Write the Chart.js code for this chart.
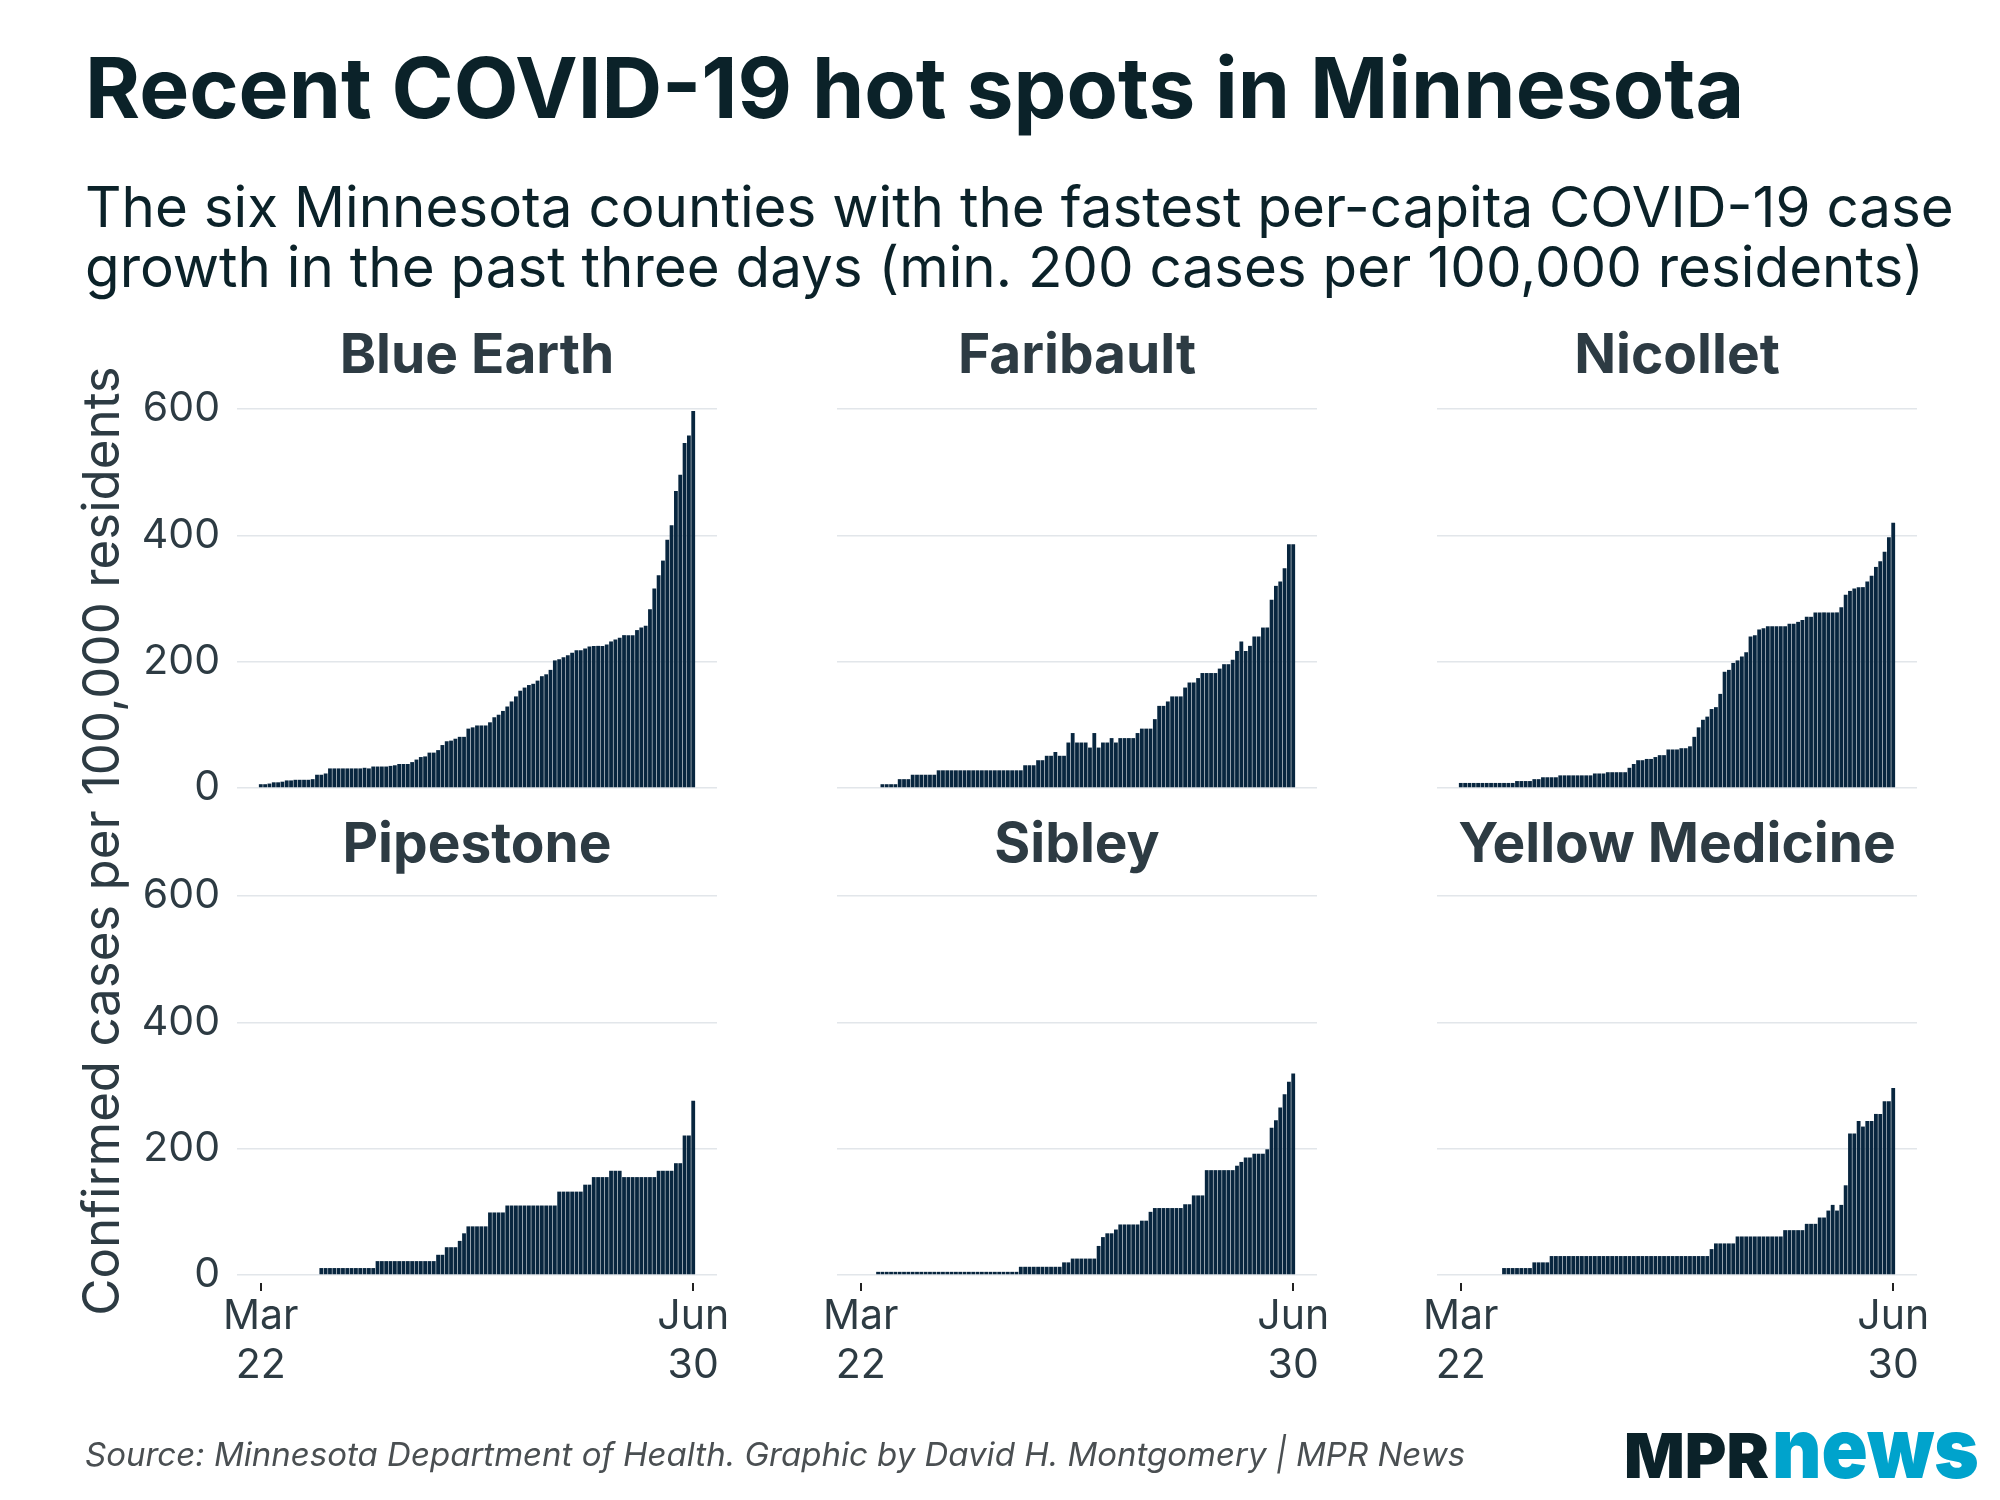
<!DOCTYPE html>
<html><head><meta charset="utf-8">
<script src="https://cdn.jsdelivr.net/npm/chart.js@4.4.1/dist/chart.umd.min.js"></script>
<style>
html,body{margin:0;padding:0;background:#fff;}
#stage{position:relative;width:2000px;height:1500px;overflow:hidden;background:#fff;}
#stage canvas{position:absolute;}
#txt{position:absolute;left:0;top:0;pointer-events:none;}
</style></head><body>
<div id="stage">
<svg id="txt" width="2000" height="1500" xmlns="http://www.w3.org/2000/svg">
  <text x="85" y="118" font-family="Inter" font-weight="700" font-size="84" fill="#0b2229">Recent COVID-19 hot spots in Minnesota</text>
  <text x="85" y="227" font-family="Inter" font-weight="400" font-size="56.5" fill="#0b2229">The six Minnesota counties with the fastest per-capita COVID-19 case</text>
  <text x="85" y="287" font-family="Inter" font-weight="400" font-size="56.5" fill="#0b2229">growth in the past three days (min. 200 cases per 100,000 residents)</text>
  <text transform="translate(119,841) rotate(-90)" text-anchor="middle" font-family="Inter" font-weight="400" font-size="51" fill="#2d3b43">Confirmed cases per 100,000 residents</text>
  <text x="85" y="1466" font-family="Inter" font-style="italic" font-weight="400" font-size="33" fill="#4a4f52">Source: Minnesota Department of Health. Graphic by David H. Montgomery | MPR News</text>
  <text x="1624" y="1478" font-family="Inter" font-weight="900" font-size="62" fill="#0b2229" textLength="145" lengthAdjust="spacingAndGlyphs">MPR</text>
  <text x="1772" y="1478" font-family="Inter" font-weight="900" font-size="84" fill="#00a3cc" textLength="207" lengthAdjust="spacingAndGlyphs">news</text>
  <g id="panelTitles"></g>
</svg>
</div>
<script>
// ---- data (cases per 100,000 residents, daily, Mar 22 .. Jun 30) ----
const counties = ['Blue Earth', 'Faribault', 'Nicollet', 'Pipestone', 'Sibley', 'Yellow Medicine'];
const blueEarth = [6,6,7,9,9,10,12,12,13,13,
  13,13,14,21,21,23,31,31,31,31,
  31,31,31,31,32,31,34,34,34,34,
  35,36,38,38,38,41,45,49,50,56,
  56,60,68,74,75,78,81,81,94,96,
  99,99,99,104,112,116,122,129,137,145,
  154,159,163,165,170,177,180,187,202,204,
  207,210,214,218,218,221,224,225,225,225,
  227,232,235,238,242,242,242,250,254,257,
  283,316,337,360,393,416,470,496,546,558,
  597];
const faribault = [0,0,0,0,0,6,6,6,6,14,
  14,14,21,21,21,21,21,21,28,28,
  28,28,28,28,28,28,28,28,28,28,
  28,28,28,28,28,28,28,28,36,36,
  36,44,44,51,51,57,51,51,72,87,
  72,72,72,64,87,64,72,72,79,72,
  79,79,79,79,87,94,94,94,109,130,
  130,137,145,145,145,159,167,167,174,182,
  182,182,182,189,196,196,203,217,232,217,
  225,240,240,254,254,298,320,327,348,386,
  386];
const nicollet = [8,8,8,8,8,8,8,8,8,8,
  8,8,8,11,11,11,11,14,14,17,
  17,17,17,20,20,20,20,20,20,20,
  20,23,23,23,25,25,25,25,25,32,
  38,44,44,46,46,49,52,52,61,61,
  61,63,63,66,81,96,108,113,125,128,
  149,184,187,198,202,208,215,240,242,251,
  253,256,256,256,256,256,260,260,263,266,
  271,271,278,278,278,278,278,278,286,306,
  312,316,318,318,327,336,350,359,374,397,
  420];
const pipestone = [0,0,0,0,0,0,0,0,0,0,
  0,0,0,0,11,11,11,11,11,11,
  11,11,11,11,11,11,11,22,22,22,
  22,22,22,22,22,22,22,22,22,22,
  22,32,32,44,44,44,54,66,77,77,
  77,77,77,99,99,99,99,110,110,110,
  110,110,110,110,110,110,110,110,110,132,
  132,132,132,132,132,143,143,155,155,155,
  155,165,165,165,155,155,155,155,155,155,
  155,155,165,165,165,165,177,177,221,221,
  276];
const sibley = [0,0,0,0,5,5,5,5,5,5,
  5,5,5,5,5,5,5,5,5,5,
  5,5,5,5,5,5,5,5,5,5,
  5,5,5,5,5,5,5,13,13,13,
  13,13,13,13,13,13,13,20,20,26,
  26,26,26,26,26,46,60,66,66,72,
  80,80,80,80,80,86,86,100,106,106,
  106,106,106,106,106,112,112,126,126,126,
  166,166,166,166,166,166,166,173,179,186,
  186,192,192,192,199,233,245,265,286,306,
  319];
const yellowMedicine = [0,0,0,0,0,0,0,0,0,0,
  11,11,11,11,11,11,11,20,20,20,
  20,30,30,30,30,30,30,30,30,30,
  30,30,30,30,30,30,30,30,30,30,
  30,30,30,30,30,30,30,30,30,30,
  30,30,30,30,30,30,30,30,41,50,
  50,50,50,50,61,61,61,61,61,61,
  61,61,61,61,61,71,71,71,71,71,
  81,81,81,91,91,102,111,102,111,142,
  224,224,244,235,244,244,255,255,275,275,
  296];
const seriesList = [blueEarth, faribault, nicollet, pipestone, sibley, yellowMedicine];
const yTickValues = [0, 200, 400, 600];
const xTickDays = [0, 100];                 // day index: Mar 22 and Jun 30
const xTickLabels = [['Mar', '22'], ['Jun', '30']];

// ---- layout ----
const plotLefts = [237, 837, 1437];
const plotTops = [409, 896];
const plotW = 480;
const axisW = 100, padTop = 55, padRight = 40, xAxisH = 110, xAxisHTop = 55;
const barColor = '#08263f';
const gridColor = '#e2e6ea';
const textColor = '#2d3b43';

Chart.defaults.font.family = 'Inter';
Chart.defaults.animation = false;

const stage = document.getElementById('stage');
const ptG = document.getElementById('panelTitles');

seriesList.forEach((vals, k) => {
  const col = k % 3, row = Math.floor(k / 3);
  const bottomRow = row === 1, leftCol = col === 0;
  const cv = document.createElement('canvas');
  const w = axisW + plotW + padRight;
  const plotH = 387;
  const h = padTop + plotH + (bottomRow ? xAxisH : xAxisHTop);
  cv.width = w; cv.height = h;
  cv.style.left = (plotLefts[col] - axisW) + 'px';
  cv.style.top = (plotTops[row] - padTop) + 'px';
  cv.style.width = w + 'px'; cv.style.height = h + 'px';
  stage.insertBefore(cv, document.getElementById('txt'));

  // panel title
  const t = document.createElementNS('http://www.w3.org/2000/svg', 'text');
  t.setAttribute('x', plotLefts[col] + plotW / 2);
  t.setAttribute('y', row === 0 ? 373 : 862);
  t.setAttribute('text-anchor', 'middle');
  t.setAttribute('font-family', 'Inter');
  t.setAttribute('font-weight', '700');
  t.setAttribute('font-size', '55');
  t.setAttribute('fill', textColor);
  t.textContent = counties[k];
  ptG.appendChild(t);

  new Chart(cv, {
    type: 'bar',
    data: {
      datasets: [{
        data: vals.map((v, i) => ({ x: i, y: v })),
        backgroundColor: barColor,
        borderWidth: 0,
        barPercentage: 0.88,
        categoryPercentage: 1.0
      }]
    },
    options: {
      responsive: false,
      devicePixelRatio: 1,
      animation: false,
      layout: { padding: { top: padTop, right: padRight, bottom: 0, left: 0 } },
      plugins: { legend: { display: false }, tooltip: { enabled: false }, title: { display: false } },
      scales: {
        x: {
          type: 'linear',
          min: -5.5, max: 105.5,
          offset: false,
          border: { display: false },
          grid: { display: bottomRow, offset: false, drawOnChartArea: false, drawTicks: true, tickLength: 8, color: '#222', lineWidth: 2 },
          afterBuildTicks: s => { s.ticks = xTickDays.map(v => ({ value: v })); },
          afterFit: s => { s.height = bottomRow ? xAxisH : xAxisHTop; },
          ticks: {
            display: bottomRow,
            autoSkip: false, maxRotation: 0, minRotation: 0,
            padding: 1,
            color: textColor,
            font: { size: 41, family: 'Inter', lineHeight: 1.2 },
            callback: (v) => xTickLabels[xTickDays.indexOf(v)]
          }
        },
        y: {
          min: -12.66, max: 600,
          border: { display: false },
          grid: { color: gridColor, lineWidth: 1.5, drawTicks: false },
          afterBuildTicks: s => { s.ticks = yTickValues.map(v => ({ value: v })); },
          afterFit: s => { s.width = axisW; },
          ticks: {
            display: leftCol,
            padding: 17,
            color: textColor,
            font: { size: 41, family: 'Inter' },
            callback: v => String(v)
          }
        }
      }
    }
  });
});
</script>
</body></html>
